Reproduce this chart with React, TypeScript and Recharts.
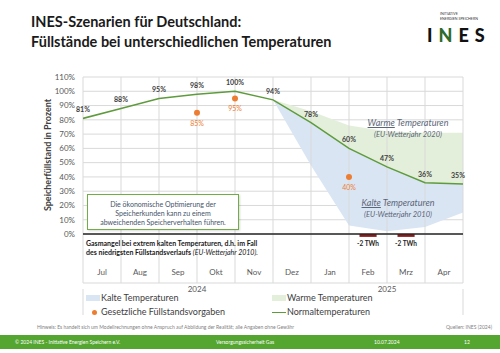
import {
  ComposedChart,
  Line,
  Area,
  Bar,
  XAxis,
  YAxis,
  CartesianGrid,
  ReferenceLine,
  LabelList,
} from 'recharts'

// months of the storage year, points sit on the 1st of each month (+ end of Apr)
const months = ['Jul', 'Aug', 'Sep', 'Okt', 'Nov', 'Dez', 'Jan', 'Feb', 'Mrz', 'Apr']
const years = ['2024', '2025']
const normal = [81, 88, 95, 98, 100, 94, 78, 60, 47, 36, 35]
const kalteLow = [null, null, null, null, null, 94, 48, 6, 2, 5, 15]
const warmeHigh = [null, null, null, null, null, 94, 86, 76, 72, 71, 71]
const vorgaben = [null, null, null, 85, 95, null, null, 40, null, null, null]
const gasmangelMonths = ['Feb', 'Mrz']
const gasmangel = [-2, -2]
const yTicks = [0, 10, 20, 30, 40, 50, 60, 70, 80, 90, 100, 110]

const FONT = 'Lato, "Open Sans", sans-serif'
const GREEN = '#5e9b3c'
const ORANGE = '#ED7D31'

const lineData = normal.map((v, i) => ({
  x: i,
  normal: v,
  kalte: kalteLow[i] != null ? [kalteLow[i], v] : null,
  warme: warmeHigh[i] != null ? [v, warmeHigh[i]] : null,
}))

const vorgabeData = vorgaben
  .map((v, i) => ({ x: i, vorgabe: v }))
  .filter((d) => d.vorgabe != null)

const gasData = gasmangelMonths.map((m, i) => ({
  x: months.indexOf(m) + 0.5,
  gas: gasmangel[i],
}))

const boundaries = [...months.map((_, i) => i), months.length]
const monthTicks = months.map((_, i) => i + 0.5)
// 2024 = Jul..Dez, 2025 = Jan..Apr
const yearTicks = [0, 3, 8, 10]
const yearLabel: Record<number, string> = { 3: years[0], 8: years[1] }

function MonthTick(props: any) {
  const { x, y, payload } = props
  return (
    <text x={x} y={y - 16} textAnchor="middle" fontSize={8} fill="#595959" fontFamily={FONT}>
      {months[Math.floor(payload.value)]}
    </text>
  )
}

function YearTick(props: any) {
  const { x, y, payload } = props
  const label = yearLabel[payload.value]
  if (!label) {
    return <line x1={x} x2={x} y1={y - 22} y2={y + 4} stroke="#d9d9d9" />
  }
  return (
    <text x={x} y={y - 19} textAnchor="middle" fontSize={8} fill="#595959" fontFamily={FONT}>
      {label}
    </text>
  )
}

function NormalLabel(props: any) {
  const { x, y, value, index } = props
  const last = index === normal.length - 1
  return (
    <text
      x={last ? x - 5 : x}
      y={y - 6}
      textAnchor="middle"
      fontSize={7}
      fontWeight="bold"
      fill="#404040"
      fontFamily={FONT}
    >
      {value}%
    </text>
  )
}

function VorgabeLabel(props: any) {
  const { x, y, value } = props
  return (
    <text x={x} y={y + 13} textAnchor="middle" fontSize={7} fill={ORANGE} fontFamily={FONT}>
      {value}%
    </text>
  )
}

function GasLabel(props: any) {
  const { x, y, width, height, value } = props
  const bottom = Math.max(y, y + height)
  return (
    <text
      x={x + width / 2}
      y={bottom + 9}
      textAnchor="middle"
      fontSize={6.5}
      fontWeight="bold"
      fill="#262626"
      fontFamily={FONT}
    >
      {value} TWh
    </text>
  )
}

function Chart() {
  return (
    <ComposedChart
      width={500}
      height={353}
      data={gasData}
      margin={{ top: 77, right: 37, left: 53, bottom: 30 }}
    >
      <CartesianGrid vertical={false} stroke="#d9d9d9" />
      {boundaries.map((b) => (
        <ReferenceLine key={b} x={b} stroke="#d9d9d9" />
      ))}
      <XAxis
        dataKey="x"
        type="number"
        domain={[0, 10]}
        ticks={monthTicks}
        interval={0}
        tick={<MonthTick />}
        tickLine={false}
        axisLine={false}
        height={20}
        allowDataOverflow
      />
      <XAxis
        xAxisId="year"
        dataKey="x"
        type="number"
        domain={[0, 10]}
        ticks={yearTicks}
        interval={0}
        tick={<YearTick />}
        tickLine={false}
        axisLine={false}
        height={20}
        allowDataOverflow
      />
      <YAxis
        type="number"
        domain={[-34.3, 110]}
        ticks={yTicks}
        interval={0}
        allowDataOverflow
        tickFormatter={(v) => `${v}%`}
        tick={{ fontSize: 8, fill: '#595959', fontFamily: FONT }}
        tickLine={false}
        axisLine={false}
        width={30}
      />
      <Area
        data={lineData}
        dataKey="kalte"
        type="linear"
        fill="#dae5f4"
        fillOpacity={1}
        stroke="none"
        isAnimationActive={false}
      />
      <Area
        data={lineData}
        dataKey="warme"
        type="linear"
        fill="#e3efda"
        fillOpacity={1}
        stroke="none"
        isAnimationActive={false}
      />
      <ReferenceLine y={0} stroke="#262626" strokeWidth={1.5} />
      <Bar dataKey="gas" fill="#8b1a1a" barSize={21} isAnimationActive={false}>
        <LabelList dataKey="gas" content={<GasLabel />} />
      </Bar>
      <Line
        data={lineData}
        dataKey="normal"
        type="linear"
        stroke={GREEN}
        strokeWidth={1.5}
        dot={false}
        isAnimationActive={false}
      >
        <LabelList dataKey="normal" content={<NormalLabel />} />
      </Line>
      <Line
        data={vorgabeData}
        dataKey="vorgabe"
        stroke="none"
        dot={{ r: 3, fill: ORANGE, stroke: 'none' }}
        isAnimationActive={false}
      >
        <LabelList dataKey="vorgabe" content={<VorgabeLabel />} />
      </Line>
    </ComposedChart>
  )
}

const abs = (style: React.CSSProperties): React.CSSProperties => ({
  position: 'absolute',
  fontFamily: FONT,
  whiteSpace: 'nowrap',
  ...style,
})

export default function App() {
  return (
    <div
      style={{
        position: 'absolute',
        left: 0,
        top: 0,
        width: 500,
        height: 353,
        overflow: 'hidden',
        background: '#fff',
        fontFamily: FONT,
      }}
    >
      {/* title */}
      <div style={abs({ left: 31, top: 12, fontSize: 14.5, fontWeight: 700, color: '#1a1a1a', lineHeight: '20px' })}>
        INES-Szenarien für Deutschland:
        <br />
        Füllstände bei unterschiedlichen Temperaturen
      </div>

      {/* logo */}
      <div style={abs({ left: 440, top: 11, fontSize: 3.6, color: '#333', lineHeight: '5px' })}>
        INITIATIVE
        <br />
        ENERGIEN SPEICHERN
      </div>
      <div style={abs({ left: 427, top: 25, fontSize: 18, fontWeight: 900, color: '#111', letterSpacing: 6, lineHeight: '20px' })}>
        I<span style={{ color: '#2f6b2a' }}>N</span>ES
      </div>

      <div style={{ position: 'absolute', left: 0, top: 0 }}>
        <Chart />
      </div>

      {/* y axis title */}
      <div
        style={abs({
          left: 47,
          top: 155,
          fontSize: 9,
          fontWeight: 700,
          color: '#404040',
          transform: 'translate(-50%, -50%) rotate(-90deg)',
        })}
      >
        Speicherfüllstand in Prozent
      </div>

      {/* note box */}
      <div
        style={abs({
          left: 87,
          top: 194,
          width: 152,
          height: 36,
          border: '1px solid #70ad47',
          background: '#fff',
          boxShadow: '1px 1px 2px rgba(0,0,0,0.15)',
          fontSize: 7,
          color: '#44546a',
          textAlign: 'center',
          lineHeight: '9px',
          paddingTop: 5,
          boxSizing: 'border-box',
        })}
      >
        Die ökonomische Optimierung der
        <br />
        Speicherkunden kann zu einem
        <br />
        abweichenden Speicherverhalten führen.
      </div>

      {/* Gasmangel text */}
      <div style={abs({ left: 86, top: 239, fontSize: 7, fontWeight: 700, color: '#1a1a1a', lineHeight: '9px' })}>
        Gasmangel bei extrem kalten Temperaturen, d.h. im Fall
        <br />
        des niedrigsten Füllstandsverlaufs <span style={{ fontWeight: 400, fontStyle: 'italic' }}>(EU-Wetterjahr 2010).</span>
      </div>

      {/* scenario annotations */}
      <div style={abs({ left: 362, top: 117, fontSize: 9, fontStyle: 'italic', color: '#5b6678', lineHeight: '11px', textAlign: 'center', width: 92 })}>
        <span style={{ textDecoration: 'underline' }}>Warme</span> Temperaturen
        <br />
        <span style={{ fontSize: 7.5 }}>(EU-Wetterjahr 2020)</span>
      </div>
      <div style={abs({ left: 352, top: 197, fontSize: 9, fontStyle: 'italic', color: '#5b6678', lineHeight: '11px', textAlign: 'center', width: 92 })}>
        <span style={{ textDecoration: 'underline' }}>Kalte</span> Temperaturen
        <br />
        <span style={{ fontSize: 7.5 }}>(EU-Wetterjahr 2010)</span>
      </div>

      {/* legend */}
      <div style={abs({ left: 86, top: 295, width: 14, height: 6, background: '#dae5f4' })} />
      <div style={abs({ left: 101, top: 292, fontSize: 9, color: '#404040', lineHeight: '12px' })}>Kalte Temperaturen</div>
      <div style={abs({ left: 92, top: 310, width: 5, height: 5, borderRadius: '50%', background: ORANGE })} />
      <div style={abs({ left: 101, top: 306, fontSize: 9, color: '#404040', lineHeight: '12px' })}>Gesetzliche Füllstandsvorgaben</div>
      <div style={abs({ left: 272, top: 295, width: 14, height: 6, background: '#e3efda' })} />
      <div style={abs({ left: 287, top: 292, fontSize: 9, color: '#404040', lineHeight: '12px' })}>Warme Temperaturen</div>
      <div style={abs({ left: 272, top: 311.5, width: 14, height: 1.5, background: GREEN })} />
      <div style={abs({ left: 287, top: 306, fontSize: 9, color: '#404040', lineHeight: '12px' })}>Normaltemperaturen</div>

      {/* disclaimer */}
      <div style={abs({ left: 37, top: 324, fontSize: 5, color: '#7f7f7f', lineHeight: '6px' })}>
        Hinweis: Es handelt sich um Modellrechnungen ohne Anspruch auf Abbildung der Realität; alle Angaben ohne Gewähr
      </div>
      <div style={abs({ right: 8, top: 324, fontSize: 5, color: '#7f7f7f', lineHeight: '6px' })}>Quellen: INES (2024)</div>

      {/* footer */}
      <div style={abs({ left: 0, top: 335, width: 500, height: 14, background: '#55a630' })} />
      <div style={abs({ left: 15, top: 339, fontSize: 5, color: '#fff', lineHeight: '6px' })}>
        © 2024 INES - Initiative Energien Speichern e.V.
      </div>
      <div style={abs({ left: 216, top: 339, fontSize: 5, color: '#fff', lineHeight: '6px' })}>Versorgungssicherheit Gas</div>
      <div style={abs({ left: 374, top: 339, fontSize: 5, color: '#fff', lineHeight: '6px' })}>10.07.2024</div>
      <div style={abs({ left: 464, top: 339, fontSize: 5, color: '#fff', lineHeight: '6px' })}>12</div>
    </div>
  )
}
